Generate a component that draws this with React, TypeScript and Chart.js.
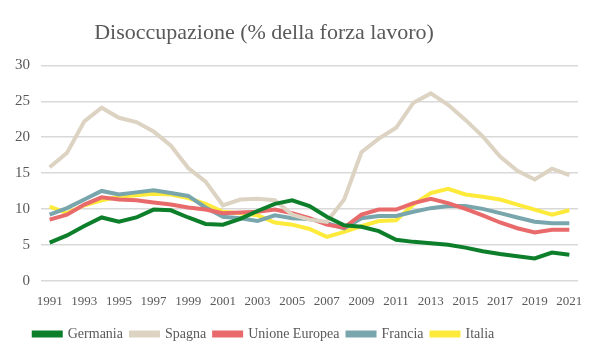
import React, { useEffect, useRef } from "react";
import { Chart, registerables } from "chart.js";
Chart.register(...registerables);

const years = ["1991","1992","1993","1994","1995","1996","1997","1998","1999","2000","2001","2002","2003","2004","2005","2006","2007","2008","2009","2010","2011","2012","2013","2014","2015","2016","2017","2018","2019","2020","2021"];
const germania = [5.3,6.3,7.6,8.8,8.2,8.8,9.9,9.8,8.8,7.9,7.8,8.6,9.7,10.7,11.2,10.4,8.9,7.7,7.5,6.9,5.7,5.4,5.2,5.0,4.6,4.1,3.7,3.4,3.1,3.9,3.6];
const spagna = [15.8,17.8,22.2,24.1,22.7,22.1,20.8,18.8,15.7,13.8,10.5,11.3,11.4,11.2,9.2,8.5,8.2,11.3,17.9,19.8,21.3,24.8,26.1,24.5,22.4,20.1,17.3,15.3,14.1,15.6,14.7];
const ue = [8.5,9.2,10.6,11.6,11.3,11.2,10.9,10.6,10.2,9.9,9.4,9.5,9.6,9.9,9.4,8.7,7.8,7.4,9.2,9.9,9.9,10.8,11.4,10.8,10.0,9.1,8.1,7.3,6.7,7.1,7.1];
const francia = [9.2,10.1,11.3,12.5,12.0,12.3,12.6,12.2,11.8,10.2,8.9,8.7,8.3,9.1,8.7,8.6,8.0,7.3,8.7,9.0,9.0,9.6,10.1,10.4,10.4,10.0,9.4,8.8,8.2,8.0,8.0];
const italia = [10.3,9.4,10.5,11.2,11.7,11.9,12.1,12.0,11.5,10.7,9.6,9.4,9.1,8.1,7.8,7.2,6.1,6.8,7.6,8.3,8.4,10.6,12.2,12.8,12.0,11.7,11.3,10.6,9.9,9.2,9.8];

const FONT = "'Liberation Serif', 'DejaVu Serif', serif";

const shiftPlugin = {
  id: "shiftBlocks",
  afterLayout(chart: any) {
    const dx = -27;
    for (const b of [chart.legend, chart.titleBlock]) {
      if (b) { b.left += dx; b.right += dx; }
    }
  },
};

export default function App() {
  const ref = useRef<HTMLCanvasElement>(null);
  useEffect(() => {
    document.body.style.margin = "0";
    const ds = (label: string, data: number[], color: string) => ({
      label, data, borderColor: color, backgroundColor: color,
      borderWidth: 4, pointRadius: 0, tension: 0, fill: false,
    });
    const chart = new Chart(ref.current!, {
      type: "line",
      data: {
        labels: years,
        datasets: [
          ds("Germania", germania, "#0d7f2b"),
          ds("Spagna", spagna, "#ddd3c3"),
          ds("Unione Europea", ue, "#e96a6a"),
          ds("Francia", francia, "#79a5ad"),
          ds("Italia", italia, "#fdea3a"),
        ],
      },
      plugins: [shiftPlugin],
      options: {
        animation: false,
        responsive: false,
        maintainAspectRatio: false,
        layout: { padding: { left: 4, right: 22, top: 8, bottom: 7 } },
        plugins: {
          title: {
            display: true,
            text: "Disoccupazione (% della forza lavoro)",
            color: "#595959",
            font: { family: FONT, size: 22, weight: "normal" },
            padding: { top: 12, bottom: 19 },
          },
          legend: {
            position: "bottom",
            labels: {
              boxWidth: 27,
              boxHeight: 3,
              padding: 8,
              color: "#595959",
              font: { family: FONT, size: 14 },
            },
          },
          tooltip: { enabled: false },
        },
        scales: {
          x: {
            offset: true,
            grid: { display: false },
            border: { display: false },
            title: { display: true, text: " ", font: { size: 4 }, padding: { top: 0, bottom: 0 } },
            ticks: {
              autoSkip: false,
              maxRotation: 0,
              padding: 5,
              color: "#595959",
              font: { family: FONT, size: 13 },
              callback: (_v: any, i: number) => (i % 2 === 0 ? years[i] : ""),
            },
          },
          y: {
            min: 0,
            max: 30,
            ticks: { stepSize: 5, color: "#595959", font: { family: FONT, size: 15 }, padding: 11 },
            grid: { color: "#d9d9d9", lineWidth: 1.5, drawTicks: false },
            border: { display: false },
          },
        },
      },
    });
    return () => chart.destroy();
  }, []);
  return (
    <div style={{ width: 600, height: 358 }}>
      <canvas ref={ref} width={600} height={358} style={{ width: 600, height: 358 }} />
    </div>
  );
}
